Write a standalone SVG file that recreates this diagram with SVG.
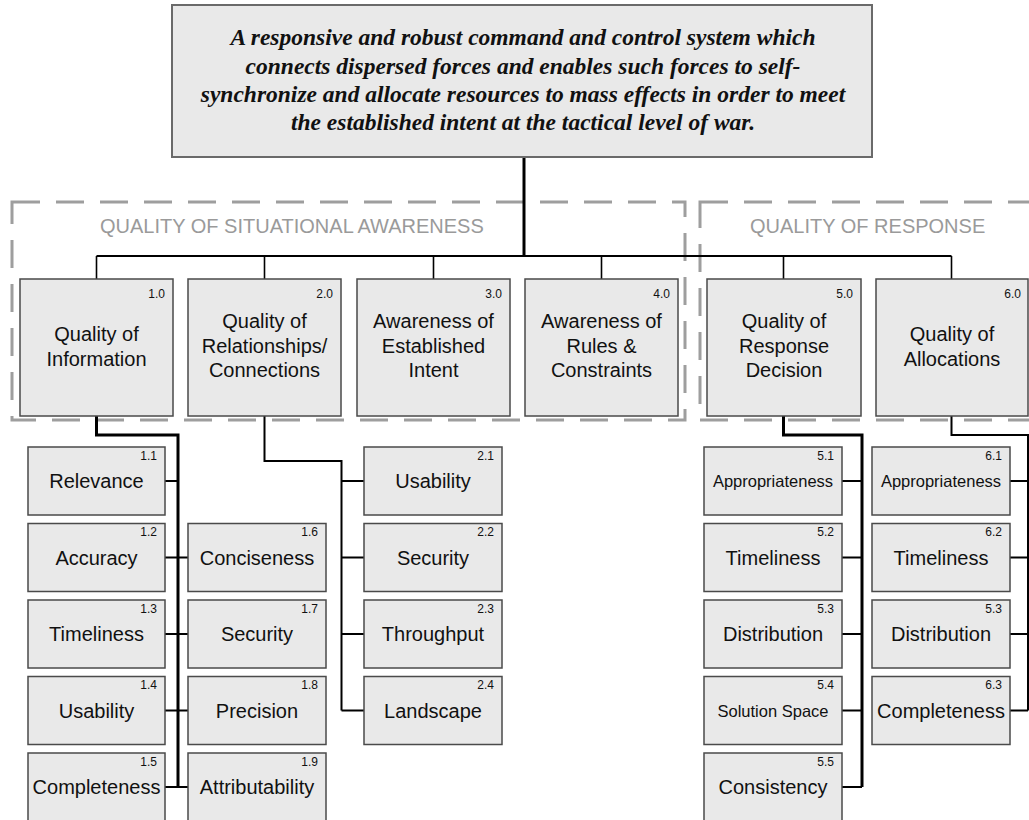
<svg xmlns="http://www.w3.org/2000/svg" width="1029" height="820" viewBox="0 0 1029 820">
  <style>
    .box { fill: #e9e9e9; stroke: #4a4a4a; stroke-width: 1.5; }
    .top { fill: #e9e9e9; stroke: #6a6a6a; stroke-width: 2; }
    .zone { fill: none; stroke: #9e9e9e; stroke-width: 3; stroke-dasharray: 28 16; }
    .zlabel { font-family: "Liberation Sans", Arial, sans-serif; font-size: 20px; fill: #9a9a9a; }
    .goal { font-family: "Liberation Serif", "Times New Roman", serif; font-size: 23.5px; font-weight: bold; font-style: italic; fill: #111; text-anchor: middle; }
    .lbl { font-family: "Liberation Sans", Arial, sans-serif; font-size: 20px; fill: #111; text-anchor: middle; }
    .sm { font-size: 16.5px; }
    .num { font-family: "Liberation Sans", Arial, sans-serif; font-size: 12px; fill: #111; text-anchor: end; }
    .ln { fill: none; stroke: #000; stroke-width: 2; }
    .thick { stroke-width: 3; }
    .thin { stroke-width: 1.6; }
  </style>

  <!-- dashed grouping zones -->
  <g id="zones">
    <rect class="zone" x="12" y="202" width="673" height="218"/>
    <rect class="zone" x="700" y="202" width="345" height="218"/>
    <text class="zlabel" x="100" y="233">QUALITY OF SITUATIONAL AWARENESS</text>
    <text class="zlabel" x="750" y="233">QUALITY OF RESPONSE</text>
  </g>

  <!-- connectors -->
  <g id="connectors">
    <path class="ln thick" d="M524 157 V256"/>
    <path class="ln" d="M96.5 256 H951.5"/>
    <path class="ln thin" d="M96.5 256 V279 M264.5 256 V279 M433.5 256 V279 M601.5 256 V279 M783.5 256 V279 M951.5 256 V279"/>
    <!-- 1.0 branch -->
    <path class="ln thick" d="M96.5 416 V435 H178 V787"/>
    <path class="ln" d="M165 481 H178 M165 557.5 H188 M165 634 H188 M165 710.5 H188 M165 787 H188"/>
    <!-- 2.0 branch -->
    <path class="ln" d="M264.5 416 V461 H341.5 V710.5"/>
    <path class="ln" d="M341.5 481 H364 M341.5 557.5 H364 M341.5 634 H364 M341.5 710.5 H364"/>
    <!-- 5.0 branch -->
    <path class="ln thick" d="M783.5 416 V435 H862 V787"/>
    <path class="ln" d="M842 481 H862 M842 557.5 H862 M842 634 H862 M842 710.5 H862 M842 787 H862"/>
    <!-- 6.0 branch -->
    <path class="ln" d="M951.5 416 V435 H1028 V710.5"/>
    <path class="ln" d="M1010 481 H1028 M1010 557.5 H1028 M1010 634 H1028 M1010 710.5 H1028"/>
  </g>

  <!-- goal statement -->
  <g id="goal">
    <rect class="top" x="172" y="5" width="700" height="152"/>
    <text class="goal" x="523" y="45">A responsive and robust command and control system which</text>
    <text class="goal" x="523" y="73.5">connects dispersed forces and enables such forces to self-</text>
    <text class="goal" x="523" y="102">synchronize and allocate resources to mass effects in order to meet</text>
    <text class="goal" x="523" y="130">the established intent at the tactical level of war.</text>
  </g>

  <!-- first-level measures -->
  <g id="n1_0">
    <rect class="box" x="20" y="279" width="153" height="137"/>
    <text class="num" x="165" y="298">1.0</text>
    <text class="lbl" x="96.5" y="341">Quality of</text>
    <text class="lbl" x="96.5" y="366">Information</text>
  </g>
  <g id="n2_0">
    <rect class="box" x="188" y="279" width="153" height="137"/>
    <text class="num" x="333" y="298">2.0</text>
    <text class="lbl" x="264.5" y="328">Quality of</text>
    <text class="lbl" x="264.5" y="353">Relationships/</text>
    <text class="lbl" x="264.5" y="377">Connections</text>
  </g>
  <g id="n3_0">
    <rect class="box" x="357" y="279" width="153" height="137"/>
    <text class="num" x="502" y="298">3.0</text>
    <text class="lbl" x="433.5" y="328">Awareness of</text>
    <text class="lbl" x="433.5" y="353">Established</text>
    <text class="lbl" x="433.5" y="377">Intent</text>
  </g>
  <g id="n4_0">
    <rect class="box" x="525" y="279" width="153" height="137"/>
    <text class="num" x="670" y="298">4.0</text>
    <text class="lbl" x="601.5" y="328">Awareness of</text>
    <text class="lbl" x="601.5" y="353">Rules &amp;</text>
    <text class="lbl" x="601.5" y="377">Constraints</text>
  </g>
  <g id="n5_0">
    <rect class="box" x="707" y="279" width="154" height="137"/>
    <text class="num" x="853" y="298">5.0</text>
    <text class="lbl" x="784" y="328">Quality of</text>
    <text class="lbl" x="784" y="353">Response</text>
    <text class="lbl" x="784" y="377">Decision</text>
  </g>
  <g id="n6_0">
    <rect class="box" x="876" y="279" width="152" height="137"/>
    <text class="num" x="1021" y="298">6.0</text>
    <text class="lbl" x="952" y="341">Quality of</text>
    <text class="lbl" x="952" y="366">Allocations</text>
  </g>

  <!-- 1.x leaves -->
  <g id="n1_1"><rect class="box" x="28" y="447" width="137" height="68"/><text class="num" x="157" y="459.5">1.1</text><text class="lbl" x="96.5" y="488">Relevance</text></g>
  <g id="n1_2"><rect class="box" x="28" y="523.5" width="137" height="68"/><text class="num" x="157" y="536">1.2</text><text class="lbl" x="96.5" y="564.5">Accuracy</text></g>
  <g id="n1_3"><rect class="box" x="28" y="600" width="137" height="68"/><text class="num" x="157" y="612.5">1.3</text><text class="lbl" x="96.5" y="641">Timeliness</text></g>
  <g id="n1_4"><rect class="box" x="28" y="676.5" width="137" height="68"/><text class="num" x="157" y="689">1.4</text><text class="lbl" x="96.5" y="717.5">Usability</text></g>
  <g id="n1_5"><rect class="box" x="28" y="753" width="137" height="68"/><text class="num" x="157" y="765.5">1.5</text><text class="lbl" x="96.5" y="794">Completeness</text></g>
  <g id="n1_6"><rect class="box" x="188" y="523.5" width="138" height="68"/><text class="num" x="318" y="536">1.6</text><text class="lbl" x="257" y="564.5">Conciseness</text></g>
  <g id="n1_7"><rect class="box" x="188" y="600" width="138" height="68"/><text class="num" x="318" y="612.5">1.7</text><text class="lbl" x="257" y="641">Security</text></g>
  <g id="n1_8"><rect class="box" x="188" y="676.5" width="138" height="68"/><text class="num" x="318" y="689">1.8</text><text class="lbl" x="257" y="717.5">Precision</text></g>
  <g id="n1_9"><rect class="box" x="188" y="753" width="138" height="68"/><text class="num" x="318" y="765.5">1.9</text><text class="lbl" x="257" y="794">Attributability</text></g>

  <!-- 2.x leaves -->
  <g id="n2_1"><rect class="box" x="364" y="447" width="138" height="68"/><text class="num" x="494" y="459.5">2.1</text><text class="lbl" x="433" y="488">Usability</text></g>
  <g id="n2_2"><rect class="box" x="364" y="523.5" width="138" height="68"/><text class="num" x="494" y="536">2.2</text><text class="lbl" x="433" y="564.5">Security</text></g>
  <g id="n2_3"><rect class="box" x="364" y="600" width="138" height="68"/><text class="num" x="494" y="612.5">2.3</text><text class="lbl" x="433" y="641">Throughput</text></g>
  <g id="n2_4"><rect class="box" x="364" y="676.5" width="138" height="68"/><text class="num" x="494" y="689">2.4</text><text class="lbl" x="433" y="717.5">Landscape</text></g>

  <!-- 5.x leaves -->
  <g id="n5_1"><rect class="box" x="704" y="447" width="138" height="68"/><text class="num" x="834" y="459.5">5.1</text><text class="lbl sm" x="773" y="487">Appropriateness</text></g>
  <g id="n5_2"><rect class="box" x="704" y="523.5" width="138" height="68"/><text class="num" x="834" y="536">5.2</text><text class="lbl" x="773" y="564.5">Timeliness</text></g>
  <g id="n5_3"><rect class="box" x="704" y="600" width="138" height="68"/><text class="num" x="834" y="612.5">5.3</text><text class="lbl" x="773" y="641">Distribution</text></g>
  <g id="n5_4"><rect class="box" x="704" y="676.5" width="138" height="68"/><text class="num" x="834" y="689">5.4</text><text class="lbl sm" x="773" y="716.5">Solution Space</text></g>
  <g id="n5_5"><rect class="box" x="704" y="753" width="138" height="68"/><text class="num" x="834" y="765.5">5.5</text><text class="lbl" x="773" y="794">Consistency</text></g>

  <!-- 6.x leaves -->
  <g id="n6_1"><rect class="box" x="872" y="447" width="138" height="68"/><text class="num" x="1002" y="459.5">6.1</text><text class="lbl sm" x="941" y="487">Appropriateness</text></g>
  <g id="n6_2"><rect class="box" x="872" y="523.5" width="138" height="68"/><text class="num" x="1002" y="536">6.2</text><text class="lbl" x="941" y="564.5">Timeliness</text></g>
  <g id="n6_3"><rect class="box" x="872" y="600" width="138" height="68"/><text class="num" x="1002" y="612.5">5.3</text><text class="lbl" x="941" y="641">Distribution</text></g>
  <g id="n6_4"><rect class="box" x="872" y="676.5" width="138" height="68"/><text class="num" x="1002" y="689">6.3</text><text class="lbl" x="941" y="717.5">Completeness</text></g>
</svg>
